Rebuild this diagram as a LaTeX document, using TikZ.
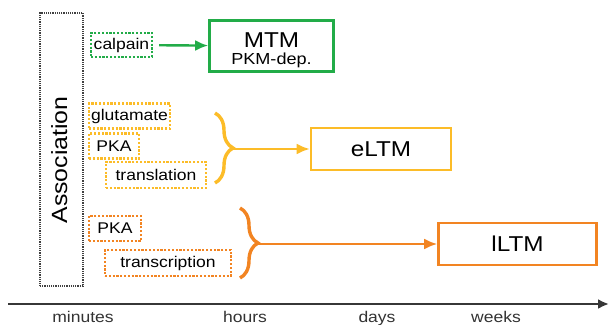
\documentclass[tikz,border=0pt]{standalone}
\usepackage{fontspec}
\setmainfont{Liberation Sans}[FakeStretch=1.13]
\usetikzlibrary{calc,positioning,arrows.meta,decorations.pathreplacing}

\definecolor{mtmgreen}{RGB}{34,172,72}
\definecolor{eltmyellow}{RGB}{252,188,40}
\definecolor{lltmorange}{RGB}{242,132,34}
\definecolor{axisgray}{RGB}{55,55,55}

\newcommand{\smalltext}{\fontsize{15.5}{17}\selectfont}
\newcommand{\bigtext}{\fontsize{21.5}{24}\selectfont}

\tikzset{
  dotbox/.style={draw,line width=2.4pt,dash pattern=on 2.2pt off 1.6pt,inner sep=0pt,font=\smalltext},
  memobox/.style={draw,line width=2.6pt,inner sep=0pt,font=\bigtext},
  curly/.style={line width=3.4pt,decorate,decoration={brace,amplitude=18pt,aspect=0.5}},
  flow/.style={line width=2.4pt,-{Latex[length=13pt,width=11pt]}},
  timelabel/.style={anchor=base,font=\smalltext,text=black!80}
}

\begin{document}
\begin{tikzpicture}[x=1pt,y=-1pt]
\useasboundingbox (0,0) rectangle (609,324);
\node [draw=black!75,line width=1.2pt,dash pattern=on 1.2pt off 1pt,minimum width=43pt,minimum height=273pt] (AssocBox) at (61.5,149.5) {};
\node [rotate=90,anchor=base,font=\fontsize{22}{24}\selectfont] (Association) at (67,160) {Association};
% MTM
\node [dotbox,draw=mtmgreen,minimum width=61pt,minimum height=24pt] (Calpain) at (121.5,45) {calpain};
\node [memobox,draw=mtmgreen,minimum width=124pt,minimum height=51pt,align=center] (MTM) at (271.5,46) {\rule{0pt}{23pt}MTM\\[-7pt]{\fontsize{16}{18}\selectfont PKM-dep.}};
\draw [flow,mtmgreen,shorten <=6pt] (Calpain) -- (MTM);
% eLTM
\node [dotbox,draw=eltmyellow,minimum width=81pt,minimum height=25pt] (Glutamate) at (129.5,116) {glutamate};
\node [dotbox,draw=eltmyellow,minimum width=50pt,minimum height=25pt] (PKAe) at (114,146) {PKA};
\node [dotbox,draw=eltmyellow,minimum width=100pt,minimum height=26pt] (Translation) at (156,175) {translation};
\node [memobox,draw=eltmyellow,minimum width=140pt,minimum height=42pt] (ELTM) at (381,149) {eLTM};
\draw [curly,eltmyellow] (215,113) -- (215,183);
\coordinate (ETip) at (232,149);
\draw [flow,eltmyellow] (ETip) -- (ELTM);
% lLTM
\node [dotbox,draw=lltmorange,minimum width=52pt,minimum height=25pt] (PKAl) at (115,228.5) {PKA};
\node [dotbox,draw=lltmorange,minimum width=126pt,minimum height=26pt] (Transcription) at (168,263) {transcription};
\node [memobox,draw=lltmorange,minimum width=158pt,minimum height=42pt] (LLTM) at (517.5,244) {lLTM};
\draw [curly,lltmorange] (240,208) -- (240,278);
\coordinate (LTip) at (257,244);
\draw [flow,lltmorange] (LTip) -- (LLTM);
% time axis
\coordinate (TimeStart) at (8,304);
\coordinate (TimeEnd) at (609,304);
\draw [line width=2.2pt,axisgray,-{Latex[length=11pt,width=10pt]}] (TimeStart) -- (TimeEnd);
\node [timelabel] (Minutes) at (83,322) {minutes};
\node [timelabel] (Hours) at (245,322) {hours};
\node [timelabel] (Days) at (377,322) {days};
\node [timelabel] (Weeks) at (496,322) {weeks};
\end{tikzpicture}
\end{document}
